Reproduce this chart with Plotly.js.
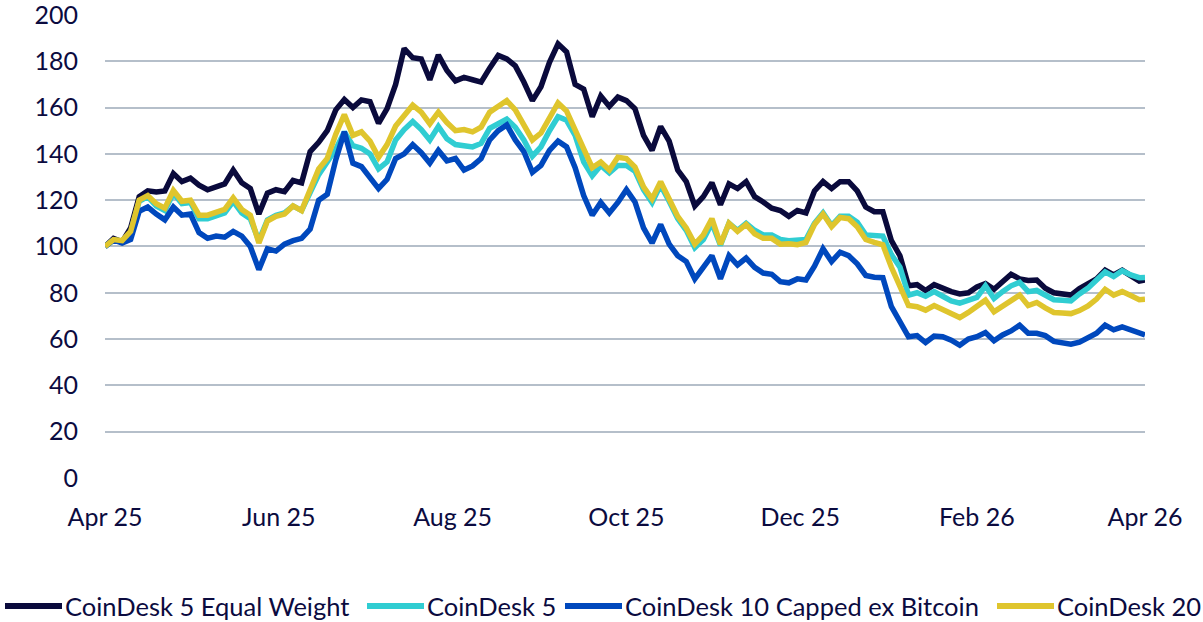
<!DOCTYPE html>
<html>
<head>
<meta charset="utf-8">
<script src="https://cdn.plot.ly/plotly-3.0.1.min.js"></script>
<style>
  html, body { margin: 0; padding: 0; background: #ffffff; }
  #chart { width: 1203px; height: 622px; }
</style>
</head>
<body>
<div id="chart"></div>
<script>
const dates = ['2025-04-01','2025-04-04','2025-04-07','2025-04-10','2025-04-13','2025-04-16','2025-04-19','2025-04-22','2025-04-25','2025-04-28',
'2025-05-01','2025-05-04','2025-05-07','2025-05-10','2025-05-13','2025-05-16','2025-05-19','2025-05-22','2025-05-25','2025-05-28','2025-05-31',
'2025-06-03','2025-06-06','2025-06-09','2025-06-12','2025-06-15','2025-06-18','2025-06-21','2025-06-24','2025-06-27','2025-06-30',
'2025-07-03','2025-07-06','2025-07-09','2025-07-12','2025-07-15','2025-07-18','2025-07-21','2025-07-24','2025-07-27','2025-07-30',
'2025-08-02','2025-08-05','2025-08-08','2025-08-11','2025-08-14','2025-08-17','2025-08-20','2025-08-23','2025-08-26','2025-08-29',
'2025-09-01','2025-09-04','2025-09-07','2025-09-10','2025-09-13','2025-09-16','2025-09-19','2025-09-22','2025-09-25','2025-09-28',
'2025-10-01','2025-10-04','2025-10-07','2025-10-10','2025-10-13','2025-10-16','2025-10-19','2025-10-22','2025-10-25','2025-10-28','2025-10-31',
'2025-11-03','2025-11-06','2025-11-09','2025-11-12','2025-11-15','2025-11-18','2025-11-21','2025-11-24','2025-11-27','2025-11-30',
'2025-12-03','2025-12-06','2025-12-09','2025-12-12','2025-12-15','2025-12-18','2025-12-21','2025-12-24','2025-12-27','2025-12-30',
'2026-01-02','2026-01-05','2026-01-08','2026-01-11','2026-01-14','2026-01-17','2026-01-20','2026-01-23','2026-01-26','2026-01-29',
'2026-02-01','2026-02-04','2026-02-07','2026-02-10','2026-02-13','2026-02-16','2026-02-19','2026-02-22','2026-02-25','2026-02-28',
'2026-03-03','2026-03-06','2026-03-09','2026-03-12','2026-03-15','2026-03-18','2026-03-21','2026-03-24','2026-03-27','2026-03-30','2026-04-01'];

const seriesNames = ['CoinDesk 5 Equal Weight', 'CoinDesk 5', 'CoinDesk 10 Capped ex Bitcoin', 'CoinDesk 20'];

const cd5EqualWeight = [
100, 103.5, 102, 108, 121.5, 124, 123.5, 124, 131.5, 128,
129.5, 126.5, 124.5, 125.5, 127, 133, 127.5, 125, 114, 123, 124.5,
123.7, 128.5, 127.5, 141, 145, 150, 159, 163.5, 160, 163.3,
162.5, 153.2, 159.5, 170, 185.5, 181.5, 181, 172, 182.7, 176,
171.5, 173, 172, 171, 177, 182.5, 181, 178, 171, 163,
169, 179.5, 187.5, 184, 170, 168, 156, 165, 160.5, 164.5,
163, 159.5, 148, 141.5, 151.8, 145.5, 133, 128, 117.5, 121.5, 127.5,
118, 127, 125, 128, 121.5, 119.2, 116.5, 115.5, 113, 115.5,
114.5, 124, 128, 125, 128, 128, 124, 117, 115, 115,
102.5, 96, 83, 83.5, 81, 83.5, 81.7, 80.5, 79.5, 80,
82.5, 84, 81.5, 85, 88, 86, 85.3, 85.5, 82, 80,
79.5, 79, 81.8, 83.7, 86, 89.8, 87.7, 89.7, 87, 85, 85.5];

const cd5 = [
100, 102.8, 102.3, 106, 119.5, 121.5, 117.5, 115.5, 123, 118.5,
119, 112, 112, 113, 114.5, 119.5, 114.5, 112, 102.5, 111.5, 113.5,
114.5, 117.5, 115.5, 123, 131, 136.5, 142, 149.5, 143.5, 142.4,
140, 133.5, 136.5, 146, 150.5, 154, 150.5, 146, 151.8, 146.5,
144, 143.5, 143, 144.5, 151, 153, 155, 151.5, 146, 139,
143, 150, 156, 154.5, 148, 136.5, 130.5, 135, 131.8, 135,
135, 132.5, 124.5, 119, 126.5, 119.5, 112, 107, 99.5, 103, 110,
100.5, 110, 107, 110, 107, 105, 105, 103, 102.5, 103,
103, 110, 114.5, 109, 113, 113, 110.5, 105, 105, 104.5,
96.5, 91, 79, 80, 78.5, 80.5, 78.5, 76.5, 75.5, 76.5,
78, 83, 77.5, 80.5, 83, 84.5, 80.5, 81, 79, 77,
76.8, 76.5, 79.5, 82, 85.5, 89, 87, 89.5, 87.7, 86.5, 86.6];

const cd10CappedExBtc = [
100, 102.8, 101.5, 103, 115.2, 117, 114, 111.5, 117, 113.5,
114, 106, 103.5, 104.5, 104, 106.5, 104.5, 100, 90, 99, 98,
101, 102.5, 103.5, 107.5, 120, 122.5, 137.5, 149.5, 136, 134.5,
130, 125, 129, 138, 140, 144, 140.5, 136, 141.5, 137,
138, 133, 134.8, 138, 146, 150, 152.5, 146, 141, 132,
135, 141.5, 145.5, 143, 134, 122, 113.5, 119, 114.5, 119,
124.5, 119.2, 108, 101.5, 109.5, 101, 96, 93.5, 86, 91, 96,
86, 96, 92, 95, 91, 88.5, 88, 84.8, 84.3, 86,
85.5, 91.5, 99, 93.5, 97.5, 96, 92.5, 87.5, 86.7, 86.5,
74, 68, 61, 61.5, 58.5, 61.3, 61, 59.5, 57.3, 60,
61, 62.8, 59.3, 61.8, 63.5, 66, 62.5, 62.5, 61.5, 59,
58.5, 57.8, 58.7, 60.5, 62.5, 66, 64, 65.3, 64, 62.7, 61.8];

const cd20 = [
100, 103, 102.5, 106.5, 120, 122, 118.5, 116.5, 124.2, 119.5,
120, 113.5, 113.5, 114.5, 116, 121, 116, 113.5, 101.5, 111, 113,
114, 117.5, 115.5, 125, 133.5, 138, 148.5, 157, 148, 149.5,
145.5, 138.5, 144, 152, 157, 161, 158, 153, 158, 153.5,
150, 150.5, 149.5, 151.5, 158, 160.5, 163, 159, 152.5, 146,
149, 156, 162, 158.5, 150, 141.5, 134, 136.5, 133, 138.5,
138, 134.3, 125.7, 120.5, 128, 120.5, 113, 108, 101, 105, 112,
101, 110, 106.5, 109.5, 105.5, 103.5, 103.5, 101, 101.2, 100.8,
101.8, 109.5, 114, 108.6, 112.5, 112, 108.5, 103, 101.8, 100.7,
91, 83, 74.5, 74, 72.5, 74.5, 72.8, 71.5, 69.3, 71.5,
74.3, 76.8, 71.8, 74.3, 76.5, 79, 74.5, 75.8, 73.5, 71.5,
71.3, 71, 72.3, 74.3, 77.3, 81.5, 79, 80.5, 78.8, 77, 77.2];

const tickDates = ['2025-04-01','2025-06-01','2025-08-01','2025-10-01','2025-12-01','2026-02-01','2026-04-01'];
const tickLabels = ['Apr 25','Jun 25','Aug 25','Oct 25','Dec 25','Feb 26','Apr 26'];
const yTicks = [0, 20, 40, 60, 80, 100, 120, 140, 160, 180, 200];

const colors = ['#0a0a3c', '#30cdd2', '#0048bd', '#dfc52d'];
const seriesData = [cd5EqualWeight, cd5, cd10CappedExBtc, cd20];

const textColor = '#0b0b3f';
const FONT = 'Lato, "Open Sans", sans-serif';

const traces = seriesData.map((vals, i) => ({
  type: 'scatter',
  mode: 'lines',
  x: dates,
  y: vals,
  name: seriesNames[i],
  line: { color: colors[i], width: 5.5, shape: 'linear' },
  showlegend: false,
  hoverinfo: 'x+y+name'
}));

// Legend drawn below the plot (line sample + label), paper coords
const plotL = 105, plotW = 1040, plotB = 478, plotT = 14;
const plotH = plotB - plotT;
const yMax = 200.4;
const legendLineStart = [5, 367, 565, 997];
const legendLineLen = 57;
const legendY = 606;
const px2paperX = p => (p - plotL) / plotW;
const px2paperY = p => (plotB - p) / plotH;

const shapes = [];
const annotations = [];
seriesNames.forEach((nm, i) => {
  shapes.push({
    type: 'line', xref: 'paper', yref: 'paper',
    x0: px2paperX(legendLineStart[i]), x1: px2paperX(legendLineStart[i] + legendLineLen),
    y0: px2paperY(legendY), y1: px2paperY(legendY),
    line: { color: colors[i], width: 6 }
  });
  annotations.push({
    xref: 'paper', yref: 'paper',
    x: px2paperX(legendLineStart[i] + legendLineLen + 1),
    y: px2paperY(legendY),
    xanchor: 'left', yanchor: 'middle',
    text: nm, showarrow: false,
    font: { family: FONT, size: 25.5, color: textColor }
  });
});

const layout = {
  width: 1203, height: 622,
  margin: { l: plotL, r: 1203 - plotL - plotW, t: plotT, b: 622 - plotB },
  paper_bgcolor: '#ffffff', plot_bgcolor: '#ffffff',
  font: { family: FONT, color: textColor, size: 25 },
  showlegend: false,
  xaxis: {
    type: 'date',
    range: ['2025-04-01', '2026-04-01'],
    tickmode: 'array', tickvals: tickDates, ticktext: tickLabels,
    showgrid: false, zeroline: false, showline: false, ticks: '',
    tickfont: { family: FONT, size: 25, color: textColor },
    ticklabelstandoff: 22,
    ticklabeloverflow: 'allow'
  },
  yaxis: {
    range: [0, yMax],
    tickmode: 'array', tickvals: yTicks,
    showgrid: true, gridcolor: '#b5bfca', gridwidth: 2,
    zeroline: false, showline: false, ticks: '',
    tickfont: { family: FONT, size: 25, color: textColor },
    ticklabelstandoff: 26,
    ticklabeloverflow: 'allow'
  },
  shapes: shapes,
  annotations: annotations
};

Plotly.newPlot('chart', traces, layout, { displayModeBar: false, staticPlot: true });
</script>
</body>
</html>
